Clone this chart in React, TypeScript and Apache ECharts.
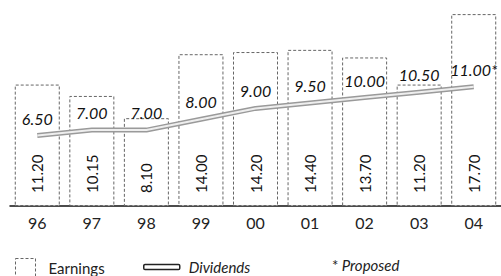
import React, { useEffect, useRef } from "react";
import * as echarts from "echarts";

const years = ["96", "97", "98", "99", "00", "01", "02", "03", "04"];
const earnings = [11.2, 10.15, 8.1, 14.0, 14.2, 14.4, 13.7, 11.2, 17.7];
const dividends = [6.5, 7.0, 7.0, 8.0, 9.0, 9.5, 10.0, 10.5, 11.0];
const dividendMarks = ["", "", "", "", "", "", "", "", "*"];
const legendNames = ["Earnings", "Dividends"];
const footnote = "Proposed";

const FONT = "Lato, 'Open Sans', sans-serif";

export default function App() {
  const ref = useRef<HTMLDivElement>(null);

  useEffect(() => {
    if (!ref.current) return;
    const chart = echarts.init(ref.current, undefined, { renderer: "svg" });
    chart.setOption({
      animation: false,
      backgroundColor: "#fff",
      textStyle: { fontFamily: FONT },
      grid: { left: 10, right: -7, top: 0, bottom: 70, containLabel: false },
      xAxis: {
        type: "category",
        data: years,
        axisLine: { lineStyle: { color: "#111", width: 1.5 } },
        axisTick: { show: false },
        axisLabel: { margin: 8, fontSize: 16, color: "#222", fontFamily: FONT },
      },
      yAxis: { type: "value", min: 0, max: 19, show: false },
      legend: [
        {
          data: [
            {
              name: legendNames[0],
              icon: "rect",
              itemStyle: {
                color: "#fff",
                borderColor: "#666",
                borderWidth: 1,
                borderType: [3, 2],
              },
            },
          ],
          left: 15,
          top: 258,
          padding: 0,
          itemWidth: 20,
          itemHeight: 18,
          textStyle: { fontSize: 15, color: "#222", fontFamily: FONT, padding: [0, 0, 0, 8] },
        },
        {
          data: [
            {
              name: legendNames[1],
              icon: "roundRect",
              itemStyle: { color: "#fff", borderColor: "#222", borderWidth: 1.5 },
            },
          ],
          left: 143,
          top: 258,
          padding: 0,
          itemWidth: 36,
          itemHeight: 5,
          textStyle: {
            fontSize: 15,
            color: "#222",
            fontStyle: "italic",
            fontFamily: FONT,
            padding: [0, 0, 0, 4],
            lineHeight: 18,
          },
        },
      ],
      graphic: [
        {
          type: "text",
          left: 332,
          top: 257,
          style: {
            text: "{a|*} {b|" + footnote + "}",
            rich: {
              a: { fontSize: 15, fill: "#222", fontFamily: FONT },
              b: { fontSize: 15, fill: "#222", fontStyle: "italic", fontFamily: FONT },
            },
          },
        },
      ],
      series: [
        {
          name: legendNames[0],
          type: "bar",
          data: earnings,
          barWidth: 45,
          itemStyle: {
            color: "#fff",
            borderColor: "#666",
            borderWidth: 1,
            borderType: [3, 2],
          },
          label: {
            show: true,
            position: "insideBottom",
            rotate: 90,
            align: "left",
            verticalAlign: "middle",
            distance: 13,
            fontSize: 15,
            color: "#111",
            fontFamily: FONT,
            formatter: (p: any) => Number(p.value).toFixed(2),
          },
          z: 1,
        },
        {
          name: legendNames[1],
          type: "line",
          data: dividends,
          symbol: "circle",
          symbolSize: 1,
          showSymbol: true,
          itemStyle: { color: "rgba(0,0,0,0)" },
          lineStyle: { color: "#9a9a9a", width: 5 },
          label: {
            show: true,
            position: "top",
            distance: 9,
            fontSize: 16,
            fontStyle: "italic",
            color: "#111",
            fontFamily: FONT,
            formatter: (p: any) => Number(p.value).toFixed(2) + dividendMarks[p.dataIndex],
          },
          z: 3,
        },
        {
          name: "DividendsInner",
          type: "line",
          data: dividends,
          symbol: "none",
          silent: true,
          lineStyle: { color: "#eeeeee", width: 2 },
          z: 4,
        },
      ],
    });
    return () => chart.dispose();
  }, []);

  return (
    <div
      ref={ref}
      style={{ position: "fixed", left: 0, top: 0, width: 501, height: 276 }}
    />
  );
}
